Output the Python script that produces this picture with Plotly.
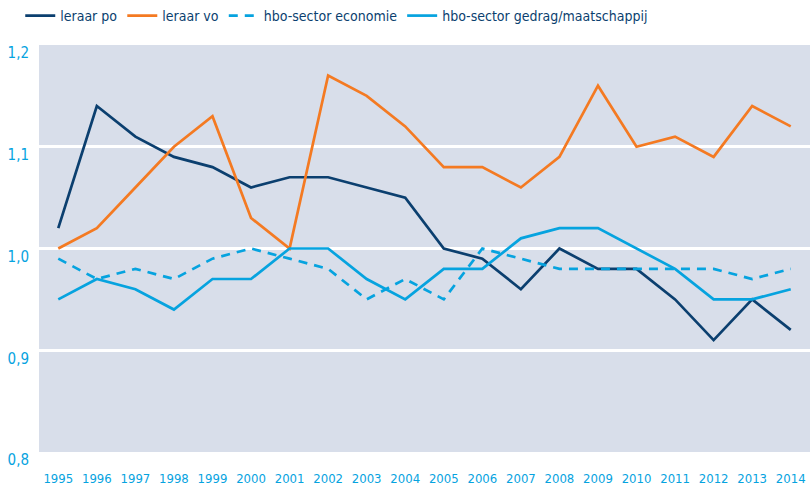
import plotly.graph_objects as go

years = list(range(1995, 2015))
leraar_po = [1.02, 1.14, 1.11, 1.09, 1.08, 1.06, 1.07, 1.07, 1.06, 1.05,
             1.00, 0.99, 0.96, 1.00, 0.98, 0.98, 0.95, 0.91, 0.95, 0.92]
leraar_vo = [1.00, 1.02, 1.06, 1.10, 1.13, 1.03, 1.00, 1.17, 1.15, 1.12,
             1.08, 1.08, 1.06, 1.09, 1.16, 1.10, 1.11, 1.09, 1.14, 1.12]
hbo_economie = [0.99, 0.97, 0.98, 0.97, 0.99, 1.00, 0.99, 0.98, 0.95, 0.97,
                0.95, 1.00, 0.99, 0.98, 0.98, 0.98, 0.98, 0.98, 0.97, 0.98]
hbo_gedrag = [0.95, 0.97, 0.96, 0.94, 0.97, 0.97, 1.00, 1.00, 0.97, 0.95,
              0.98, 0.98, 1.01, 1.02, 1.02, 1.00, 0.98, 0.95, 0.95, 0.96]
y_ticks = [0.8, 0.9, 1.0, 1.1, 1.2]

NAVY = "#0b3f6f"
ORANGE = "#f47a22"
LIGHT = "#06a3df"
FONT = "DejaVu Sans Condensed, Liberation Sans Narrow, sans-serif"

fig = go.Figure()
fig.add_trace(go.Scatter(x=years, y=leraar_po, name="leraar po", mode="lines",
                         line=dict(color=NAVY, width=2.7)))
fig.add_trace(go.Scatter(x=years, y=leraar_vo, name="leraar vo", mode="lines",
                         line=dict(color=ORANGE, width=2.7)))
fig.add_trace(go.Scatter(x=years, y=hbo_economie, name="hbo-sector economie", mode="lines",
                         line=dict(color=LIGHT, width=2.7, dash="9px,7px")))
fig.add_trace(go.Scatter(x=years, y=hbo_gedrag, name="hbo-sector gedrag/maatschappij", mode="lines",
                         line=dict(color=LIGHT, width=2.7)))

fig.update_layout(
    width=810, height=492,
    margin=dict(l=39, r=0, t=45, b=40, autoexpand=False),
    paper_bgcolor="white",
    plot_bgcolor="#d8deea",
    separators=",.",
    font=dict(family=FONT, size=14, color=NAVY),
    legend=dict(orientation="h", xref="container", yref="container",
                x=0.025, y=1.0, xanchor="left", yanchor="top",
                font=dict(family=FONT, size=14, color=NAVY),
                bgcolor="rgba(0,0,0,0)", itemwidth=30, traceorder="normal"),
    showlegend=True,
)
fig.update_xaxes(range=[1994.5, 2014.5], tickmode="array", tickvals=years,
                 ticktext=[str(y) for y in years], showgrid=False, zeroline=False,
                 tickfont=dict(family=FONT, size=13, color=LIGHT),
                 ticklabelstandoff=17, showline=False, ticks="")
fig.update_yaxes(range=[0.8, 1.2], tickmode="array", tickvals=y_ticks,
                 tickformat=".1f", showgrid=True, gridcolor="white", gridwidth=3,
                 zeroline=False, tickfont=dict(family=FONT, size=15, color=LIGHT),
                 ticklabelshift=8, ticklabelstandoff=9, showline=False, ticks="")

# remove the default 8px page margin so the figure fills the 810x492 window
fig.write_html("out.html", config={"displayModeBar": False},
               post_script="document.body.style.margin='0';")
